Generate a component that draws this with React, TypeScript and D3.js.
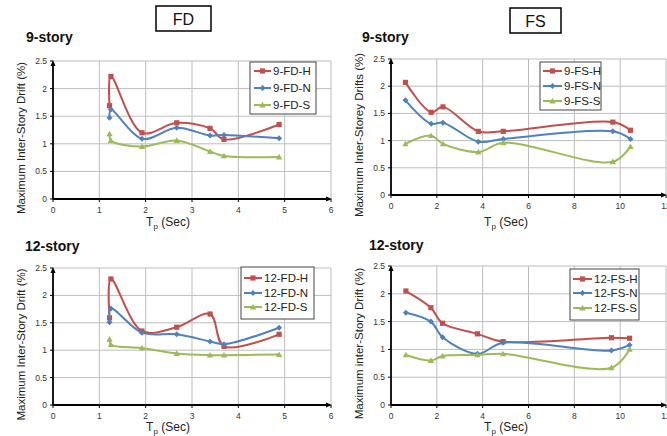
import React from "react";
import * as d3 from "d3";

// ---------- data ----------
const TP_9FD = [1.22, 1.25, 1.92, 2.67, 3.39, 3.69, 4.88];
const H_9FD = [1.69, 2.22, 1.2, 1.38, 1.28, 1.08, 1.35];
const N_9FD = [1.47, 1.62, 1.09, 1.29, 1.15, 1.16, 1.1];
const S_9FD = [1.18, 1.06, 0.95, 1.06, 0.86, 0.78, 0.76];

const TP_12FD = [1.22, 1.25, 1.92, 2.67, 3.39, 3.69, 4.88];
const H_12FD = [1.59, 2.3, 1.35, 1.42, 1.66, 1.07, 1.29];
const N_12FD = [1.51, 1.76, 1.32, 1.29, 1.16, 1.11, 1.41];
const S_12FD = [1.2, 1.1, 1.04, 0.94, 0.91, 0.91, 0.92];

const TP_9FS = [0.63, 1.75, 2.27, 3.81, 4.9, 9.68, 10.45];
const H_9FS = [2.07, 1.52, 1.62, 1.17, 1.17, 1.34, 1.19];
const N_9FS = [1.74, 1.31, 1.33, 0.98, 1.03, 1.17, 1.03];
const S_9FS = [0.94, 1.09, 0.94, 0.79, 0.96, 0.61, 0.89];

const TP_12FS = [0.65, 1.74, 2.25, 3.77, 4.89, 9.62, 10.41];
const H_12FS = [2.05, 1.75, 1.47, 1.28, 1.14, 1.21, 1.2];
const N_12FS = [1.66, 1.5, 1.22, 0.92, 1.12, 0.98, 1.08];
const S_12FS = [0.9, 0.8, 0.88, 0.9, 0.92, 0.67, 1.0];

const Y_TICKS = [0, 0.5, 1, 1.5, 2, 2.5];
const X_TICKS_FD = [0, 1, 2, 3, 4, 5, 6];
const X_TICKS_FS = [0, 2, 4, 6, 8, 10, 12];

const COLORS = { H: "#C0504D", N: "#4F81BD", S: "#9BBB59" };
const FONT = "'Liberation Sans', Arial, sans-serif";

type Series = { name: string; key: "H" | "N" | "S"; xs: number[]; ys: number[] };

type PanelProps = {
  left: number;
  right: number;
  bottom: number;
  top: number;
  xMax: number;
  xTicks: number[];
  series: Series[];
  yTitle: string;
  yTitleX: number;
  xTitleY: number;
  legend: { x: number; y: number; w: number; h: number; rowY: number[]; lx: number; lw: number };
};

function Marker({ kind, x, y, color }: { kind: string; x: number; y: number; color: string }) {
  if (kind === "H") return <rect x={x - 2.6} y={y - 2.6} width={5.2} height={5.2} fill={color} />;
  if (kind === "N") return <path d={`M${x},${y - 3}L${x + 3},${y}L${x},${y + 3}L${x - 3},${y}Z`} fill={color} />;
  return <path d={`M${x},${y - 3.2}L${x + 3.2},${y + 2.4}L${x - 3.2},${y + 2.4}Z`} fill={color} />;
}

function Panel(p: PanelProps) {
  const x = d3.scaleLinear().domain([0, p.xMax]).range([p.left, p.right]);
  const y = d3.scaleLinear().domain([0, 2.5]).range([p.bottom, p.top]);
  const line = d3
    .line<[number, number]>()
    .x((d) => x(d[0]))
    .y((d) => y(d[1]))
    .curve(d3.curveCatmullRom.alpha(0.5));
  const xc = (p.left + Math.min(p.right, 620 + p.left - 390)) / 2;
  return (
    <g>
      {/* grid */}
      {Y_TICKS.filter((t) => t > 0).map((t) => (
        <line key={"gy" + t} x1={p.left} x2={p.right} y1={y(t)} y2={y(t)} stroke="#bdbdbd" strokeWidth={1} />
      ))}
      {p.xTicks.filter((t) => t > 0).map((t) => (
        <line key={"gx" + t} x1={x(t)} x2={x(t)} y1={p.top} y2={p.bottom} stroke="#bdbdbd" strokeWidth={1} />
      ))}
      {/* axes */}
      <line x1={p.left} x2={p.left} y1={p.bottom} y2={p.top + 3} stroke="#000" strokeWidth={1.8} />
      <path d={`M${p.left},${p.top - 1}L${p.left + 2.5},${p.top + 5}L${p.left - 2.5},${p.top + 5}Z`} fill="#000" />
      <line x1={p.left} x2={p.right - 3} y1={p.bottom} y2={p.bottom} stroke="#000" strokeWidth={1.8} />
      <path d={`M${p.right + 1},${p.bottom}L${p.right - 5},${p.bottom - 2.5}L${p.right - 5},${p.bottom + 2.5}Z`} fill="#000" />
      {Y_TICKS.map((t) => (
        <g key={"yt" + t}>
          <line x1={p.left - 3} x2={p.left} y1={y(t)} y2={y(t)} stroke="#000" strokeWidth={1} />
          <text x={p.left - 6} y={y(t)} dy="0.35em" textAnchor="end" fontSize={8.5} fontFamily={FONT} fill="#333">
            {t}
          </text>
        </g>
      ))}
      {p.xTicks.map((t) => (
        <g key={"xt" + t}>
          <line x1={x(t)} x2={x(t)} y1={p.bottom} y2={p.bottom + 3} stroke="#000" strokeWidth={1} />
          <text x={x(t)} y={p.bottom + 14} textAnchor="middle" fontSize={8.5} fontFamily={FONT} fill="#333">
            {t}
          </text>
        </g>
      ))}
      {/* axis titles */}
      <text
        transform={`translate(${p.yTitleX},${(p.top + p.bottom) / 2 + 8}) rotate(-90)`}
        textAnchor="middle"
        dominantBaseline="middle"
        fontSize={11.5}
        fontFamily={FONT}
        fill="#222"
      >
        {p.yTitle}
      </text>
      <text x={xc} y={p.xTitleY} textAnchor="middle" fontSize={12} fontFamily={FONT} fill="#222">
        T<tspan fontSize={8} dy={3}>p</tspan>
        <tspan dy={-3}> (Sec)</tspan>
      </text>
      {/* series */}
      {p.series.map((s) => {
        const pts = s.xs.map((v, i) => [v, s.ys[i]] as [number, number]);
        return (
          <g key={s.name}>
            <path d={line(pts) || ""} fill="none" stroke={COLORS[s.key]} strokeWidth={2} />
            {pts.map((d, i) => (
              <Marker key={i} kind={s.key} x={x(d[0])} y={y(d[1])} color={COLORS[s.key]} />
            ))}
          </g>
        );
      })}
      {/* legend */}
      <rect x={p.legend.x} y={p.legend.y} width={p.legend.w} height={p.legend.h} fill="#fff" stroke="#444" strokeWidth={1} />
      {p.series.map((s, i) => {
        const ry = p.legend.rowY[i];
        return (
          <g key={"lg" + s.name}>
            <line x1={p.legend.lx} x2={p.legend.lx + p.legend.lw} y1={ry} y2={ry} stroke={COLORS[s.key]} strokeWidth={2} />
            <Marker kind={s.key} x={p.legend.lx + p.legend.lw / 2} y={ry} color={COLORS[s.key]} />
            <text x={p.legend.lx + p.legend.lw + 2} y={ry} dy="0.36em" fontSize={11.5} fontFamily={FONT} fill="#222">
              {s.name}
            </text>
          </g>
        );
      })}
    </g>
  );
}

export default function App() {
  return (
    <svg width={667} height={436} style={{ position: "absolute", left: 0, top: 0, background: "#fff" }}>
      {/* headers */}
      <rect x={156} y={6} width={55} height={25} fill="#fff" stroke="#000" strokeWidth={1.5} />
      <text x={183.5} y={24.5} textAnchor="middle" fontSize={16} fontFamily={FONT} fill="#111">
        FD
      </text>
      <rect x={510} y={8} width={51} height={25} fill="#fff" stroke="#000" strokeWidth={1.5} />
      <text x={535.5} y={26.5} textAnchor="middle" fontSize={16} fontFamily={FONT} fill="#111">
        FS
      </text>
      <text x={26} y={42} fontSize={14} fontWeight="bold" fontFamily={FONT} fill="#111">9-story</text>
      <text x={362} y={42} fontSize={14} fontWeight="bold" fontFamily={FONT} fill="#111">9-story</text>
      <text x={25} y={251} fontSize={14} fontWeight="bold" fontFamily={FONT} fill="#111">12-story</text>
      <text x={369} y={250} fontSize={14} fontWeight="bold" fontFamily={FONT} fill="#111">12-story</text>

      <Panel
        left={53}
        right={331}
        bottom={199}
        top={61}
        xMax={6}
        xTicks={X_TICKS_FD}
        yTitle="Maximum Inter-Story Drift (%)"
        yTitleX={22}
        xTitleY={226}
        series={[
          { name: "9-FD-H", key: "H", xs: TP_9FD, ys: H_9FD },
          { name: "9-FD-N", key: "N", xs: TP_9FD, ys: N_9FD },
          { name: "9-FD-S", key: "S", xs: TP_9FD, ys: S_9FD },
        ]}
        legend={{ x: 250, y: 62, w: 66, h: 52, rowY: [71, 88, 105], lx: 254, lw: 17 }}
      />
      <Panel
        left={391}
        right={666}
        bottom={195}
        top={59}
        xMax={12}
        xTicks={X_TICKS_FS}
        yTitle="Maximum Inter-Storey Drifts (%)"
        yTitleX={360}
        xTitleY={226}
        series={[
          { name: "9-FS-H", key: "H", xs: TP_9FS, ys: H_9FS },
          { name: "9-FS-N", key: "N", xs: TP_9FS, ys: N_9FS },
          { name: "9-FS-S", key: "S", xs: TP_9FS, ys: S_9FS },
        ]}
        legend={{ x: 540, y: 62, w: 61, h: 48, rowY: [71, 86, 101], lx: 543, lw: 19 }}
      />
      <Panel
        left={53}
        right={331}
        bottom={405}
        top={268}
        xMax={6}
        xTicks={X_TICKS_FD}
        yTitle="Maximum Inter-Story Drift (%)"
        yTitleX={22}
        xTitleY={431}
        series={[
          { name: "12-FD-H", key: "H", xs: TP_12FD, ys: H_12FD },
          { name: "12-FD-N", key: "N", xs: TP_12FD, ys: N_12FD },
          { name: "12-FD-S", key: "S", xs: TP_12FD, ys: S_12FD },
        ]}
        legend={{ x: 241, y: 267, w: 73, h: 52, rowY: [278, 293, 307], lx: 244, lw: 18 }}
      />
      <Panel
        left={391}
        right={666}
        bottom={405}
        top={266}
        xMax={12}
        xTicks={X_TICKS_FS}
        yTitle="Maximum inter-Story Drift (%)"
        yTitleX={360}
        xTitleY={431}
        series={[
          { name: "12-FS-H", key: "H", xs: TP_12FS, ys: H_12FS },
          { name: "12-FS-N", key: "N", xs: TP_12FS, ys: N_12FS },
          { name: "12-FS-S", key: "S", xs: TP_12FS, ys: S_12FS },
        ]}
        legend={{ x: 570, y: 269, w: 69, h: 51, rowY: [279, 293, 308], lx: 573, lw: 19 }}
      />
    </svg>
  );
}
